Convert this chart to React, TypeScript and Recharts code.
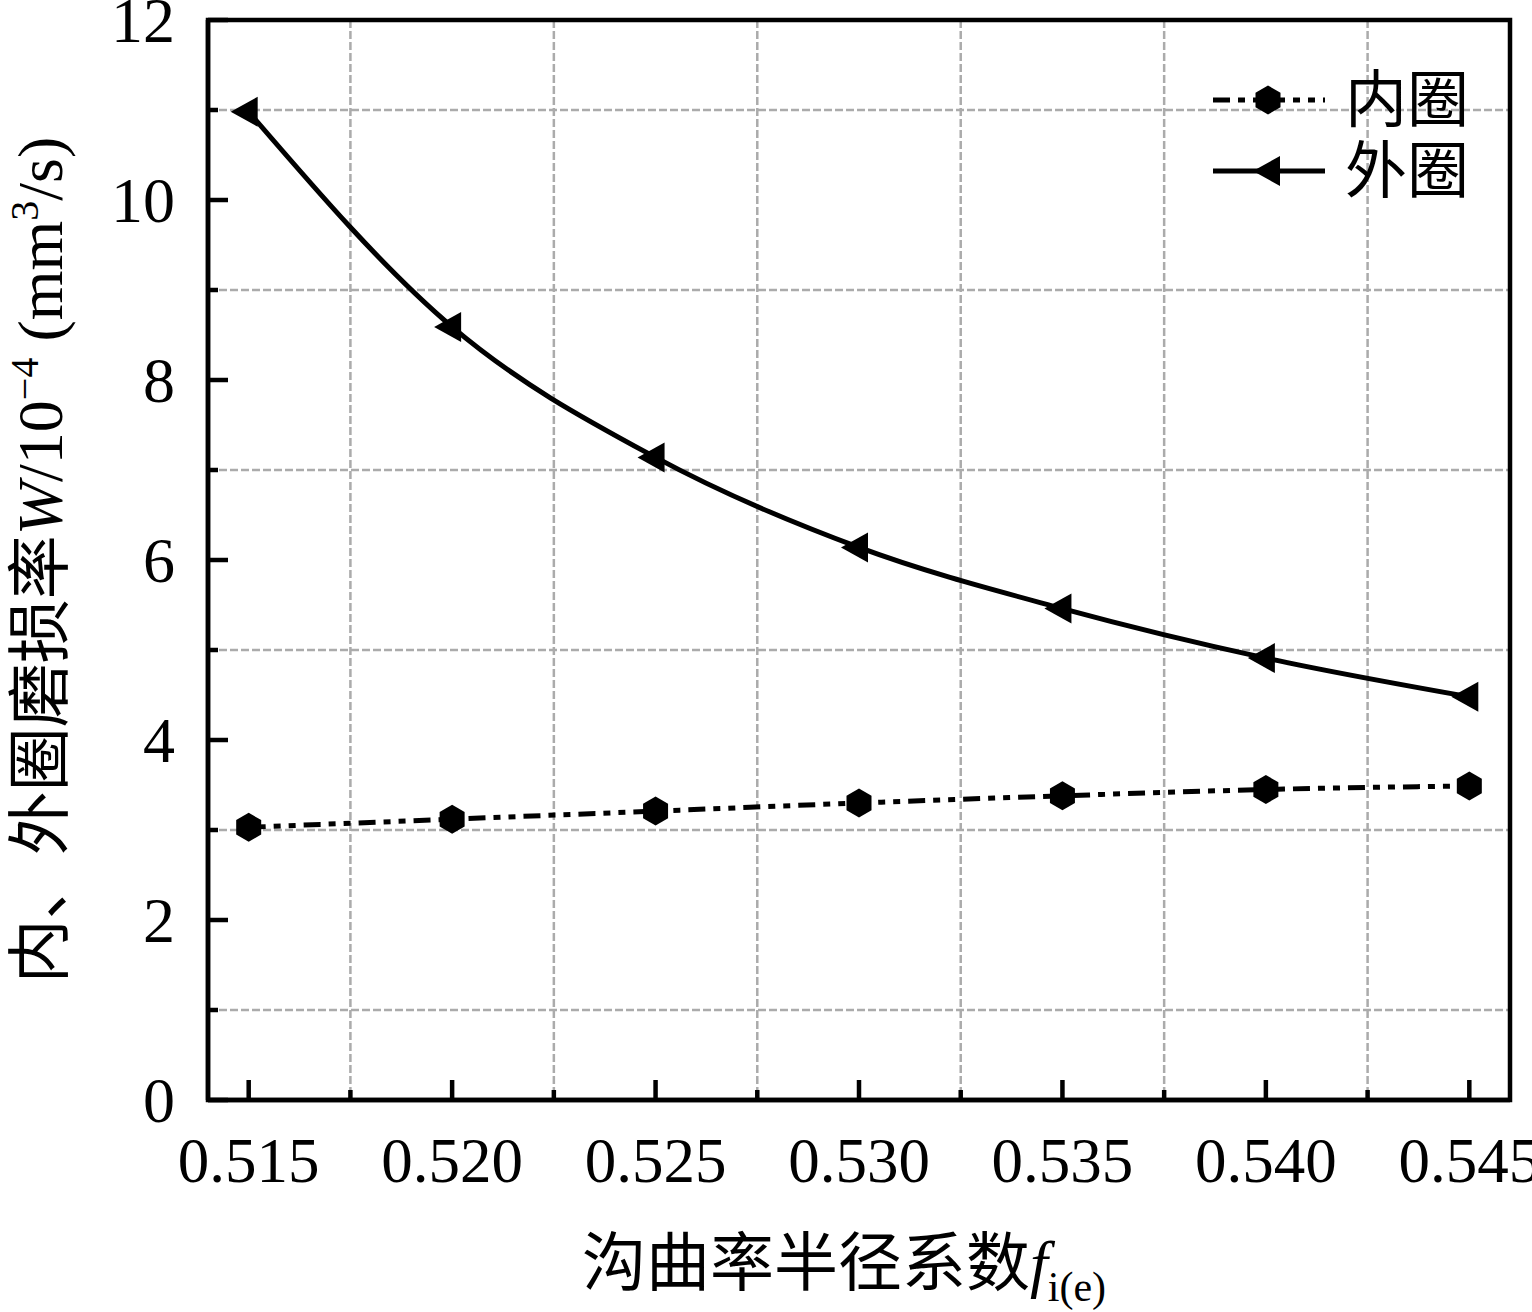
import {
  CartesianGrid,
  Legend,
  Line,
  LineChart,
  ReferenceArea,
  XAxis,
  YAxis,
} from "recharts";

// groove curvature radius factor f_i(e)
const FACTORS = [0.515, 0.52, 0.525, 0.53, 0.535, 0.54, 0.545];
// wear rate W / 1e-4 mm^3/s
const INNER_WEAR = [3.03, 3.12, 3.21, 3.3, 3.38, 3.45, 3.49];
const OUTER_WEAR = [10.98, 8.59, 7.14, 6.14, 5.46, 4.91, 4.48];

const X_TICKS = [
  0.515, 0.5175, 0.52, 0.5225, 0.525, 0.5275, 0.53, 0.5325, 0.535, 0.5375,
  0.54, 0.5425, 0.545,
];
const X_GRID = [0.5175, 0.5225, 0.5275, 0.5325, 0.5375, 0.5425];
const Y_TICKS = [0, 1, 2, 3, 4, 5, 6, 7, 8, 9, 10, 11, 12];
const Y_GRID = [1, 3, 5, 7, 9, 11];

const SERIF = "'Times New Roman', 'Liberation Serif', 'Noto Sans CJK SC', serif";

const data = FACTORS.map((x, i) => ({
  x,
  inner: INNER_WEAR[i],
  outer: OUTER_WEAR[i],
}));

function HexDot({ cx, cy }: { cx?: number; cy?: number }) {
  if (cx == null || cy == null) return null;
  const rx = 12.5;
  const ry = 14.5;
  const pts = [
    [0, -ry],
    [rx, -ry / 2],
    [rx, ry / 2],
    [0, ry],
    [-rx, ry / 2],
    [-rx, -ry / 2],
  ]
    .map(([dx, dy]) => `${cx + dx},${cy + dy}`)
    .join(" ");
  return <polygon points={pts} fill="#000" />;
}

function TriDot({ cx, cy }: { cx?: number; cy?: number }) {
  if (cx == null || cy == null) return null;
  const pts = `${cx - 18},${cy} ${cx + 9},${cy - 15} ${cx + 9},${cy + 15}`;
  return <polygon points={pts} fill="#000" />;
}

const SERIES = [
  { key: "inner", name: "内圈", dash: "17 8 7 8 7 8", Dot: HexDot },
  { key: "outer", name: "外圈", dash: undefined, Dot: TriDot },
];

function XTick({ x, y, payload }: any) {
  const v = payload.value as number;
  const major = Math.round(v * 10000) % 50 === 0;
  return (
    <g>
      <line x1={x} x2={x} y1={y} y2={y - (major ? 20 : 10)} stroke="#000" strokeWidth={4.5} />
      {major && (
        <text x={x} y={y + 82} textAnchor="middle" fontFamily={SERIF} fontSize={63} fill="#000">
          {v.toFixed(3)}
        </text>
      )}
    </g>
  );
}

function YTick({ x, y, payload }: any) {
  const v = payload.value as number;
  const major = v % 2 === 0;
  return (
    <g>
      <line x1={x} x2={x + (major ? 20 : 10)} y1={y} y2={y} stroke="#000" strokeWidth={4.5} />
      {major && (
        <text x={x - 33} y={y + 22} textAnchor="end" fontFamily={SERIF} fontSize={64} fill="#000">
          {v}
        </text>
      )}
    </g>
  );
}

function YLabel({ viewBox }: any) {
  const x = viewBox.x + 62;
  const y = viewBox.y + viewBox.height / 2;
  return (
    <text
      x={x}
      y={y}
      transform={`rotate(-90, ${x}, ${y})`}
      textAnchor="middle"
      fontFamily={SERIF}
      fontSize={64}
      fill="#000"
    >
      内、外圈磨损率
      <tspan fontStyle="italic">W</tspan>
      <tspan>/10</tspan>
      <tspan dy={-24} fontSize={40}>−4</tspan>
      <tspan dy={24}> (mm</tspan>
      <tspan dy={-24} fontSize={40}>3</tspan>
      <tspan dy={24}>/s)</tspan>
    </text>
  );
}

function XLabel({ viewBox }: any) {
  const x = viewBox.x + viewBox.width / 2 - 15;
  const y = viewBox.y + 185;
  return (
    <text x={x} y={y} textAnchor="middle" fontFamily={SERIF} fontSize={64} fill="#000">
      沟曲率半径系数
      <tspan fontStyle="italic">f</tspan>
      <tspan dy={16} fontSize={42}>i(e)</tspan>
    </text>
  );
}

function LegendContent({ payload }: any) {
  const rows = (payload || [])
    .map((p: any) => SERIES.find((s) => s.key === p.dataKey))
    .filter(Boolean);
  return (
    <svg width={300} height={150}>
      {rows.map((s: any, i: number) => {
        const cy = 38 + i * 71;
        const Dot = s.Dot;
        return (
          <g key={s.key}>
            <line x1={8} x2={120} y1={cy} y2={cy} stroke="#000" strokeWidth={5} strokeDasharray={s.dash} />
            <Dot cx={i === 0 ? 63 : 66} cy={cy} />
            <text x={140} y={cy + 22} fontFamily={SERIF} fontSize={62} fill="#000">
              {s.name}
            </text>
          </g>
        );
      })}
    </svg>
  );
}

export default function App() {
  return (
    <div style={{ position: "absolute", left: 0, top: 0, width: 1532, height: 1312, background: "#fff" }}>
      <LineChart width={1532} height={1312} data={data} margin={{ top: 20, right: 22, bottom: 0, left: 0 }}>
        <CartesianGrid
          horizontalValues={Y_GRID}
          verticalValues={X_GRID}
          stroke="#ababab"
          strokeWidth={2.5}
          strokeDasharray="8 3"
        />
        <XAxis
          dataKey="x"
          type="number"
          domain={[0.514, 0.546]}
          allowDataOverflow
          ticks={X_TICKS}
          interval={0}
          height={212}
          tickSize={0}
          tickMargin={0}
          tick={<XTick />}
          tickLine={false}
          axisLine={{ stroke: "#000", strokeWidth: 4.5 }}
          label={<XLabel />}
        />
        <YAxis
          type="number"
          domain={[0, 12]}
          allowDataOverflow
          ticks={Y_TICKS}
          interval={0}
          width={208}
          tickSize={0}
          tickMargin={0}
          tick={<YTick />}
          tickLine={false}
          axisLine={{ stroke: "#000", strokeWidth: 4.5 }}
          label={<YLabel />}
        />
        <ReferenceArea
          x1={0.514}
          x2={0.546}
          y1={0}
          y2={12}
          fill="none"
          stroke="#000"
          strokeWidth={4.5}
          ifOverflow="visible"
        />
        {SERIES.map((s) => (
          <Line
            key={s.key}
            dataKey={s.key}
            name={s.name}
            type="monotone"
            stroke="#000"
            strokeWidth={5}
            strokeDasharray={s.dash}
            dot={<s.Dot />}
            activeDot={false}
            isAnimationActive={false}
          />
        ))}
        <Legend
          layout="vertical"
          align="center"
          verticalAlign="middle"
          content={<LegendContent />}
          wrapperStyle={{ top: 62, left: 1205, width: 300, height: 150 }}
        />
      </LineChart>
    </div>
  );
}
